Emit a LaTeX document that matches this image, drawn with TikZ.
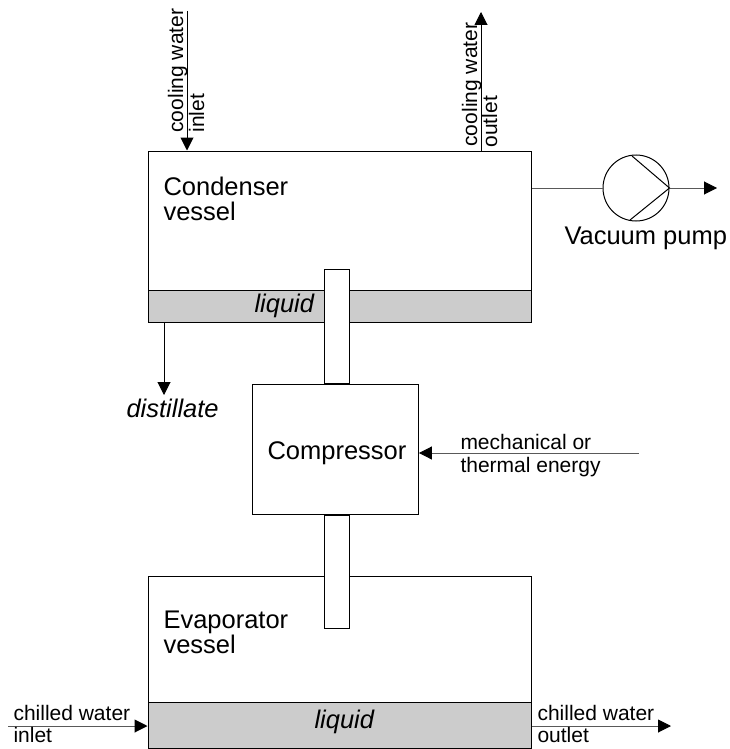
\documentclass[tikz,border=0pt]{standalone}
\usepackage{fontspec}
\setmainfont{Liberation Sans}
\usetikzlibrary{arrows.meta,positioning}
\begin{document}
\begin{tikzpicture}[x=1pt,y=-1pt,->,>={Triangle[length=13pt,width=13pt,color=black]},line width=1pt,
	box node/.style={rectangle,draw,fill=white,inner sep=0pt},
	band node/.style={rectangle,draw,fill=black!20,inner sep=0pt,minimum width=383pt,minimum height=32pt},
	feed line/.style={draw=black!65},
	big label/.style={inner sep=0pt,anchor=base west,font=\fontsize{25.5}{29}\selectfont},
	small label/.style={inner sep=0pt,anchor=base west,font=\fontsize{21}{23}\selectfont}]
	\useasboundingbox (0,0) rectangle (730,749);
	
	\node[box node,minimum width=383pt,minimum height=171pt] (condenser) at (339.5,236.5) {};
	\node[band node] (liquidtop) [above=0pt of condenser.south] {};
	\node[box node,minimum width=383pt,minimum height=172pt] (evaporator) at (339.5,662) {};
	\node[band node,minimum height=46pt] (liquidbottom) [above=0pt of evaporator.south] {};
	\node[box node,minimum width=165.5pt,minimum height=130pt] (compressor) at (335.7,449) {};
	\node[box node,minimum width=25pt,minimum height=113.5pt,xshift=1pt] (pipetop) [above=0pt of compressor.north] {};
	\node[box node,minimum width=25pt,minimum height=113.5pt,xshift=1pt] (pipebottom) [below=0pt of compressor.south] {};
	\node[circle,draw,inner sep=0pt,minimum size=66pt] (pump) at (636,188) {};
	
	\coordinate (cwin) at (187,11);
	\coordinate (cwout) at (481,12);
	\coordinate (energy) at (639,453);
	\coordinate (chin) at (8,726);
	\coordinate (chout) at (671,726);
	\coordinate (vent) at (717,188);
	\coordinate (dist) at (164,395);
	
	\path
	(cwin) edge (cwin |- condenser.north)
	(cwout |- condenser.north) edge (cwout)
	(pump.east) edge[feed line] (vent)
	(liquidtop.south -| dist) edge (dist)
	(energy) edge[feed line] (energy -| compressor.east)
	(chin) edge[feed line] (chin -| evaporator.west)
	(chout -| evaporator.east) edge[feed line] (chout)
	;
	\draw[-,feed line] (pump.west -| condenser.east) -- (pump.west);
	\draw[-] (632,156) -- (pump.east) -- (630,220);
	
	\node[big label] (condenserA) at (163,195) {Condenser};
	\node[big label] (condenserB) at (163,220) {vessel};
	\node[big label] (evaporatorA) at (163,628) {Evaporator};
	\node[big label] (evaporatorB) at (163,653) {vessel};
	\node[big label] (compressorlabel) at (267,459) {Compressor};
	\node[big label] (vacuum) at (564,244) {Vacuum pump};
	\node[big label,font=\fontsize{25.5}{29}\itshape] (liquidtext1) at (254,312) {liquid};
	\node[big label,font=\fontsize{25.5}{29}\itshape] (liquidtext2) at (314,728) {liquid};
	\node[big label,font=\fontsize{25.5}{29}\itshape] (distillate) at (126,417) {distillate};
	\node[small label] (mech) at (460,449) {mechanical or};
	\node[small label] (therm) at (460,472) {thermal energy};
	\node[small label] (chinA) at (13,720) {chilled water};
	\node[small label] (chinB) at (13,742) {inlet};
	\node[small label] (choutA) at (537,720) {chilled water};
	\node[small label] (choutB) at (537,742) {outlet};
	\node[small label,rotate=90] (cwinA) at (183,133) {cooling water};
	\node[small label,rotate=90] (cwinB) at (204,133) {inlet};
	\node[small label,rotate=90] (cwoutA) at (477,147) {cooling water};
	\node[small label,rotate=90] (cwoutB) at (497,148) {outlet};
\end{tikzpicture}
\end{document}
